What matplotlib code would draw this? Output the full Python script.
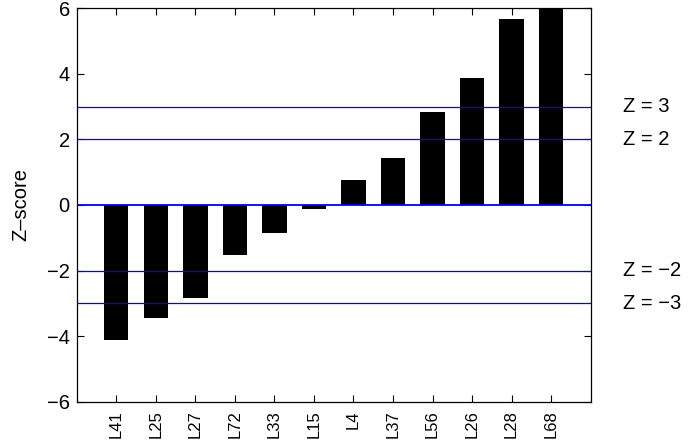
import matplotlib
matplotlib.use("Agg")
import matplotlib.pyplot as plt
import numpy as np

plt.rcParams['font.family'] = ['Liberation Sans', 'DejaVu Sans']

labels = ['L41', 'L25', 'L27', 'L72', 'L33', 'L15', 'L4', 'L37', 'L56', 'L26', 'L28', 'L68']
zscores = [-4.12, -3.45, -2.84, -1.52, -0.85, -0.12, 0.76, 1.43, 2.85, 3.88, 5.66, 6.3]
thresholds = [3, 2, -2, -3]
threshold_labels = ['Z = 3', 'Z = 2', 'Z = \u22122', 'Z = \u22123']

fig = plt.figure(figsize=(6.89, 4.43), dpi=100)
ax = fig.add_axes([76.7 / 689, 1 - 401.7 / 443, 514 / 689, 393.4 / 443])

x = np.arange(1, len(labels) + 1)
ax.bar(x, zscores, width=0.62, color='black', zorder=2)

ax.axhline(0, color='blue', lw=1.3, zorder=3)
for t, lab in zip(thresholds, threshold_labels):
    ax.axhline(t, color='blue', lw=0.9, zorder=3)
    ax.text(13.82, t, lab, fontsize=14.5, va='center', ha='left', clip_on=False)

ax.set_xlim(0, 13)
ax.set_ylim(-6, 6)
ax.set_yticks([-6, -4, -2, 0, 2, 4, 6])
ax.set_xticks(x)
ax.set_xticklabels(labels, rotation=90, fontsize=12)
ax.tick_params(axis='y', labelsize=14.5, pad=5)
ax.tick_params(axis='x', pad=6)
ax.tick_params(direction='in', top=True, right=True, length=5, width=0.8)
ax.set_ylabel('Z\u2013score', fontsize=14.5, labelpad=12)
for s in ax.spines.values():
    s.set_linewidth(0.9)

fig.savefig('out.png', dpi=100)
